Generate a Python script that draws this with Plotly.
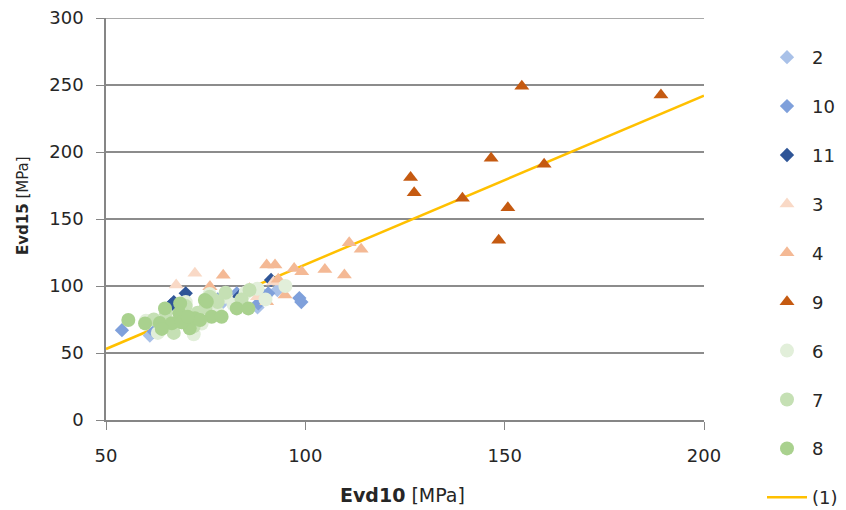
import plotly.graph_objects as go

# ---- data (Evd10, Evd15 in MPa) ----
s2_x = [61, 63, 79, 88, 90, 93]
s2_y = [63, 66, 87, 84, 92, 97]

s10_x = [54, 62, 78, 82.8, 88.2, 89, 90.7, 98.5, 99]
s10_y = [67, 66, 90, 94.5, 87, 94.5, 94.5, 91, 88]

s11_x = [66.3, 67, 70, 83.4, 91.4]
s11_y = [85.8, 88, 94.5, 92, 104.5]

s3_x = [67.6, 72.3, 76, 80, 84, 92, 88]
s3_y = [100.7, 109.5, 99.5, 95, 88, 103, 92]

s4_x = [76.1, 79.4, 90.3, 92.4, 93.2, 94.9, 90.3, 97.2, 99.1, 104.9, 109.8, 111, 114, 83, 86]
s4_y = [99.5, 108, 115.7, 115.7, 105, 93.3, 88.3, 113, 110.7, 112.4, 108.2, 132.3, 127.4, 87, 98]

s9_x = [126.4, 127.3, 139.4, 146.6, 148.5, 150.8, 154.3, 159.9, 189.2]
s9_y = [181, 169.6, 165.4, 195.3, 134.1, 158.4, 249, 190.8, 242.5]

s6_x = [60, 63, 72, 74, 80, 85, 88, 90, 95, 76, 70, 66, 78, 82]
s6_y = [74, 65, 64, 72, 92, 95, 98, 90, 100, 94, 88, 70, 80, 86]

s7_x = [62, 65, 70, 73, 76, 78, 80, 86, 72, 67, 69, 75, 77, 84]
s7_y = [75, 80, 85, 80, 92, 88, 95, 97, 70, 65, 73, 84, 90, 90]

s8_x = [55.6, 59.8, 63.5, 64.8, 68.6, 68.4, 71, 72.3, 74.8, 66.5, 75.3, 76.5, 79, 82.8, 85.7, 73.6, 64, 69, 70.5]
s8_y = [74.6, 72.1, 72.4, 83.3, 87, 79.6, 68.4, 75.9, 89.6, 72.2, 88.3, 77.1, 77, 83.3, 83.3, 74.6, 68, 73, 77]

trend_x = [50, 200]
trend_y = [53, 242]

x_title = "<b>Evd10</b> [MPa]"
y_title = "<b>Evd15</b> [MPa]"
y_max = 300

series = [
    ("2", s2_x, s2_y, "diamond", "#A9C1E8", 11),
    ("10", s10_x, s10_y, "diamond", "#7FA0DB", 11),
    ("11", s11_x, s11_y, "diamond", "#2F5597", 11),
    ("3", s3_x, s3_y, "triangle-up", "#F9D9C6", 13),
    ("4", s4_x, s4_y, "triangle-up", "#F4B995", 13),
    ("9", s9_x, s9_y, "triangle-up", "#C55A11", 13),
    ("6", s6_x, s6_y, "circle", "#E2EFDA", 14),
    ("7", s7_x, s7_y, "circle", "#C5E0B4", 14),
    ("8", s8_x, s8_y, "circle", "#A9D18E", 14),
]

fig = go.Figure()

fig.add_trace(go.Scatter(
    x=trend_x, y=trend_y, mode="lines", name="(1)",
    line=dict(color="#FFC000", width=2.5),
    legendgroup="(1)", legendrank=1100,
))

for i, (name, xs, ys, sym, col, sz) in enumerate(series):
    fig.add_trace(go.Scatter(
        x=xs, y=ys, mode="markers", name=name,
        marker=dict(symbol=sym, color=col, size=sz, line=dict(width=0)),
        legendgroup=name, legendrank=100 + i * 10,
    ))

font_family = "DejaVu Sans, Verdana, sans-serif"

# page has an 8px body margin, so the figure is 838x502 and shifted
W, H = 838, 502
L, T, R, B = 98, 10, 142, 90
PW, PH = W - L - R, H - T - B

fig.update_layout(
    width=W, height=H,
    margin=dict(l=L, r=R, t=T, b=B, autoexpand=False),
    paper_bgcolor="white", plot_bgcolor="white",
    font=dict(family=font_family, size=18, color="#262626"),
    showlegend=True,
    legend=dict(
        x=(754 - L) / PW, y=(H - B - 31) / PH, xanchor="left", yanchor="top",
        font=dict(size=18, color="#262626"),
        tracegroupgap=22.5, itemwidth=40, maxheight=520,
        bgcolor="rgba(0,0,0,0)",
    ),
    xaxis=dict(
        range=[50, 200], dtick=50, tick0=50,
        showgrid=False, zeroline=False,
        showline=True, linecolor="#868686", linewidth=1.5,
        ticks="outside", ticklen=8, tickcolor="#868686",
        tickfont=dict(size=18), ticklabelstandoff=11,
        ticklabeloverflow="allow",
    ),
    yaxis=dict(
        range=[0, y_max], dtick=50,
        showgrid=True, gridcolor="#8C8C8C", gridwidth=1.5,
        zeroline=False,
        showline=True, linecolor="#868686", linewidth=1.5,
        ticks="outside", ticklen=8, tickcolor="#868686",
        tickfont=dict(size=18), ticklabelstandoff=9,
        ticklabeloverflow="allow",
    ),
    shapes=[
        dict(type="line", xref="paper", yref="y", x0=0, x1=1,
             y0=y_max, y1=y_max, line=dict(color="#8C8C8C", width=1.5),
             layer="below"),
    ],
    annotations=[
        dict(text=x_title, xref="paper", yref="paper",
             x=(394 - L) / PW, y=(H - B - 487) / PH,
             xanchor="center", yanchor="middle", showarrow=False,
             font=dict(size=19)),
        dict(text=y_title, xref="paper", yref="paper",
             x=(15 - L) / PW, y=(H - B - 198) / PH,
             xanchor="center", yanchor="middle", showarrow=False,
             textangle=-90, font=dict(size=15)),
    ],
)

fig.write_html("out.html")
